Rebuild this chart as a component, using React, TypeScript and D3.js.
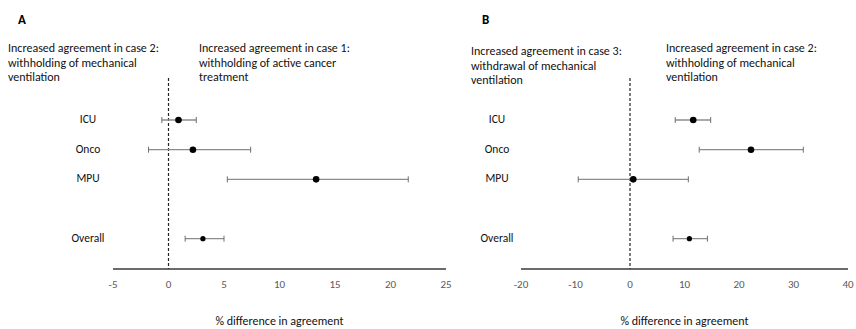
import * as d3 from "d3";

// shared rows
const groups = ["ICU", "Onco", "MPU", "Overall"];

// panel A: estimate and 95% CI
const estA = [0.9, 2.2, 13.3, 3.1];
const lowA = [-0.6, -1.8, 5.3, 1.5];
const highA = [2.5, 7.4, 21.6, 5.0];
const ticksA = [-5, 0, 5, 10, 15, 20, 25];
const leftNoteA = ["Increased agreement in case 2:", "withholding of mechanical", "ventilation"];
const rightNoteA = ["Increased agreement in case 1:", "withholding of active cancer", "treatment"];

// panel B
const estB = [11.6, 22.2, 0.6, 10.9];
const lowB = [8.3, 12.7, -9.5, 7.9];
const highB = [14.8, 31.8, 10.7, 14.2];
const ticksB = [-20, -10, 0, 10, 20, 30, 40];
const leftNoteB = ["Increased agreement in case 3:", "withdrawal of mechanical", "ventilation"];
const rightNoteB = ["Increased agreement in case 2:", "withholding of mechanical", "ventilation"];

const font = "Carlito, Lato, 'Open Sans', sans-serif";

const Panel = ({ letter, letterX, est, low, high, ticks, leftNote, rightNote, axisRange, labelX, leftX, leftDy, rightX }) => {
  const xScale = d3
    .scaleLinear()
    .domain([ticks[0], ticks[ticks.length - 1]])
    .range(axisRange);

  const yScale = d3
    .scalePoint()
    .domain(["ICU", "Onco", "MPU", "gap", "Overall"])
    .range([120, 238.7]);

  const axisY = 269;

  return (
    <g>
      <text x={letterX} y={24} fontFamily={font} fontWeight="bold" fontSize={13} fill="#000">
        {letter}
      </text>
      {leftNote.map((t, i) => (
        <text key={"l" + i} x={leftX} y={52 + i * 14.5 + leftDy} fontFamily={font} fontSize={12} fill="#111">
          {t}
        </text>
      ))}
      {rightNote.map((t, i) => (
        <text key={"r" + i} x={rightX} y={52 + i * 14.5} fontFamily={font} fontSize={12} fill="#111">
          {t}
        </text>
      ))}
      <line
        x1={xScale(0)} x2={xScale(0)} y1={78} y2={axisY}
        stroke="#222" strokeWidth={1.2} strokeDasharray="3,2"
      />
      <line x1={axisRange[0]} x2={axisRange[1]} y1={axisY} y2={axisY} stroke="#3a3a3a" strokeWidth={1.5} />
      {ticks.map((t) => (
        <text key={t} x={xScale(t)} y={288} textAnchor="middle" fontFamily={font} fontSize={11} fill="#595959">
          {t}
        </text>
      ))}
      <text x={(axisRange[0] + axisRange[1]) / 2} y={325} textAnchor="middle" fontFamily={font} fontSize={12} fill="#111">
        % difference in agreement
      </text>
      {groups.map((g, i) => {
        const y = yScale(g);
        return (
          <g key={g}>
            <text x={labelX} y={y + 3} textAnchor="middle" fontFamily={font} fontSize={11.5} fill="#111">
              {g}
            </text>
            <line x1={xScale(low[i])} x2={xScale(high[i])} y1={y} y2={y} stroke="#8c8c8c" strokeWidth={1.3} />
            <line x1={xScale(low[i])} x2={xScale(low[i])} y1={y - 3} y2={y + 3} stroke="#6e6e6e" strokeWidth={1} />
            <line x1={xScale(high[i])} x2={xScale(high[i])} y1={y - 3} y2={y + 3} stroke="#6e6e6e" strokeWidth={1} />
            <circle cx={xScale(est[i])} cy={y} r={g === "Overall" ? 2.6 : 3.3} fill="#000" />
          </g>
        );
      })}
    </g>
  );
};

const App = () => {
  return (
    <svg width={856} height={329} style={{ position: "absolute", left: 0, top: 0, background: "#fff" }}>
      <Panel
        letter="A" letterX={18} est={estA} low={lowA} high={highA} ticks={ticksA}
        leftNote={leftNoteA} rightNote={rightNoteA} axisRange={[113, 446]}
        labelX={88} leftX={8} leftDy={0} rightX={199}
      />
      <Panel
        letter="B" letterX={482} est={estB} low={lowB} high={highB} ticks={ticksB}
        leftNote={leftNoteB} rightNote={rightNoteB} axisRange={[521, 848]}
        labelX={497} leftX={471} leftDy={3} rightX={666}
      />
    </svg>
  );
};

export default App;
